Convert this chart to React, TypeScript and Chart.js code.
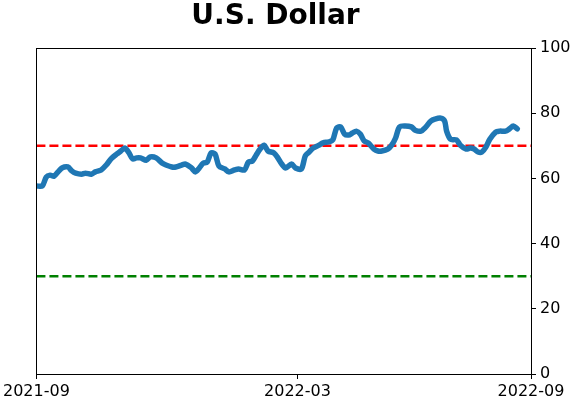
import React, { useEffect, useRef } from "react";
import { Chart, registerables } from "chart.js";

Chart.register(...registerables);

const title = "U.S. Dollar";
const dayIndex = [
  0, 3, 5, 7, 9, 11, 13, 16, 18, 20, 23, 25, 28, 30, 33, 36, 38, 41, 43, 45, 47, 49, 51, 53, 56, 58, 61, 64, 66, 69,
  71, 74, 76, 79, 81, 83, 85, 87, 89, 91, 93, 96, 98, 101, 103, 106, 108, 110, 112, 114, 116, 118, 121, 123, 125,
  127, 130, 132, 135, 137, 139, 141, 144, 146, 149, 151, 153, 155, 157, 159, 161, 163, 165, 167, 169, 172, 174, 176,
  179, 181, 183, 185, 188, 191, 193, 196, 198, 201, 203, 206, 208, 209, 211, 214, 216, 219, 221, 223, 225, 227, 229,
  231, 234, 236, 239, 241, 243, 245,
];
const values = [
  57.7, 57.7, 60.4, 61, 60.7, 62, 63.2, 63.5, 62.3, 61.6, 61.3, 61.6, 61.3, 62, 62.6, 64.4, 66, 67.5, 68.4, 69.3, 68,
  66, 66.3, 66.3, 65.6, 66.6, 66.3, 64.7, 64.1, 63.5, 63.5, 64.1, 64.4, 63.2, 62, 63.2, 64.7, 65, 67.8, 67.5, 63.8,
  62.9, 62, 62.6, 62.9, 62.6, 65, 65.3, 67.2, 69, 70.2, 68.4, 67.8, 66.3, 64.4, 63.2, 64.4, 63.2, 62.9, 66.9, 68.1,
  69.3, 70.2, 70.9, 71.2, 71.8, 75.5, 75.8, 73.6, 73.3, 73.9, 74.5, 73.6, 71.5, 70.9, 69, 68.4, 68.4, 69, 70.2, 72.4,
  75.8, 76.1, 75.8, 74.8, 74.5, 75.5, 77.6, 78.2, 78.5, 77.6, 74.5, 72, 71.8, 70.2, 69, 69.3, 69, 68.1, 68.1, 69.6,
  72, 74.2, 74.5, 74.5, 75.2, 76.1, 75.2,
];
const xMax = 252;
const tickPositions = [0, 133, 252];
const tickLabels = ["2021-09", "2022-03", "2022-09"];
const upperLevel = 70;
const lowerLevel = 30;

export default function App() {
  const ref = useRef<HTMLCanvasElement | null>(null);
  useEffect(() => {
    document.body.style.margin = "0";
    Chart.defaults.font.family = "'DejaVu Sans', sans-serif";
    Chart.defaults.color = "#000";
    const canvas = ref.current!;
    const frame = {
      id: "frame",
      afterDraw(chart: any) {
        const { ctx, chartArea } = chart;
        ctx.save();
        ctx.strokeStyle = "#000";
        ctx.lineWidth = 1;
        ctx.strokeRect(
          Math.round(chartArea.left) + 0.5,
          Math.round(chartArea.top) + 0.5,
          Math.round(chartArea.right - chartArea.left),
          Math.round(chartArea.bottom - chartArea.top)
        );
        ctx.fillStyle = "#000";
        ctx.font = "bold 28px 'DejaVu Sans'";
        ctx.textAlign = "center";
        ctx.textBaseline = "alphabetic";
        ctx.fillText(title, 275.5, 24);
        ctx.restore();
      },
    };
    const chart = new Chart(canvas, {
      type: "line",
      data: {
        datasets: [
          {
            data: dayIndex.map((d, i) => ({ x: d, y: values[i] })),
            borderColor: "#1f77b4",
            borderWidth: 5.5,
            pointRadius: 0,
            tension: 0.3,
            borderJoinStyle: "round",
            borderCapStyle: "round",
            order: 0,
          },
          {
            data: [
              { x: 0, y: upperLevel },
              { x: xMax, y: upperLevel },
            ],
            borderColor: "#ff0000",
            borderWidth: 2.5,
            borderDash: [9, 4],
            pointRadius: 0,
            order: 1,
          },
          {
            data: [
              { x: 0, y: lowerLevel },
              { x: xMax, y: lowerLevel },
            ],
            borderColor: "#008000",
            borderWidth: 2.5,
            borderDash: [9, 4],
            pointRadius: 0,
            order: 1,
          },
        ],
      },
      options: {
        responsive: false,
        animation: false,
        layout: { padding: { left: 35, top: 48, right: 0, bottom: 0 }, autoPadding: false },
        plugins: { legend: { display: false }, tooltip: { enabled: false }, title: { display: false } },
        scales: {
          x: {
            type: "linear",
            min: 0,
            max: xMax,
            border: { color: "#000", width: 1 },
            grid: { drawOnChartArea: false, drawTicks: true, tickLength: 5, tickColor: "#000" },
            afterBuildTicks(scale: any) {
              scale.ticks = tickPositions.map((v) => ({ value: v }));
            },
            afterFit(scale: any) {
              scale.height = 28;
            },
            ticks: {
              autoSkip: false,
              maxRotation: 0,
              padding: 3,
              font: { size: 16 },
              color: "#000",
              callback: (v: any) => {
                const i = tickPositions.indexOf(Number(v));
                return i >= 0 ? tickLabels[i] : "";
              },
            },
          },
          y: {
            position: "right",
            min: 0,
            max: 100,
            border: { color: "#000", width: 1 },
            grid: { drawOnChartArea: false, drawTicks: true, tickLength: 5, tickColor: "#000" },
            afterFit(scale: any) {
              scale.width = 40;
            },
            ticks: { stepSize: 20, padding: 4, font: { size: 16 }, color: "#000" },
          },
        },
      },
      plugins: [frame],
    } as any);
    return () => chart.destroy();
  }, []);
  return (
    <div style={{ width: 571, height: 402 }}>
      <canvas ref={ref} width={571} height={402} style={{ display: "block" }} />
    </div>
  );
}
